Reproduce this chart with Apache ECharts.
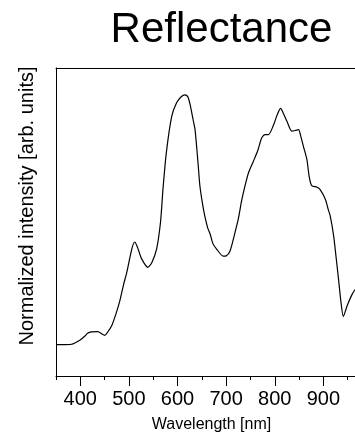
<!DOCTYPE html>
<html>
<head>
<meta charset="utf-8">
<script src="https://cdn.jsdelivr.net/npm/echarts@6/dist/echarts.min.js"></script>
<style>
  html, body { margin: 0; padding: 0; background: #fff; }
  #chart { width: 355px; height: 438px; }
</style>
</head>
<body>
<div id="chart"></div>
<script>
// Reflectance spectrum: wavelength (nm) and normalized intensity (arb. units)
const wavelength = [350, 368, 382, 399, 409, 415, 423, 436, 444, 450, 456, 465, 473, 481, 489, 496,
  506, 512, 518, 526, 539, 547, 557, 565, 570, 577, 588, 598, 607, 615, 621, 626, 632, 636,
  642, 646, 652, 656, 662, 667, 673, 680, 694, 700, 708, 718, 725, 732, 739, 746, 756, 765,
  773, 780, 787, 797, 805, 812, 817, 825, 835, 842, 849, 853, 859, 866, 871, 876, 887, 893,
  904, 910, 914, 921, 926, 931, 936, 941, 949, 959, 965];
const intensity = [0.102, 0.102, 0.103, 0.116, 0.129, 0.139, 0.143, 0.144, 0.137, 0.132, 0.142, 0.165, 0.200, 0.242, 0.297, 0.339,
  0.413, 0.435, 0.416, 0.381, 0.353, 0.368, 0.413, 0.500, 0.606, 0.726, 0.843, 0.887, 0.906, 0.913, 0.907, 0.880, 0.832, 0.800,
  0.694, 0.617, 0.553, 0.520, 0.481, 0.461, 0.429, 0.413, 0.389, 0.390, 0.406, 0.465, 0.510, 0.571, 0.619, 0.660, 0.697, 0.732,
  0.773, 0.784, 0.784, 0.813, 0.848, 0.869, 0.855, 0.827, 0.795, 0.797, 0.800, 0.781, 0.745, 0.703, 0.645, 0.618, 0.613, 0.606,
  0.574, 0.540, 0.520, 0.456, 0.387, 0.316, 0.242, 0.193, 0.229, 0.265, 0.281];
const majorTicks = [400, 900];   // first and last labelled wavelength
const majorStep = 100;
const minorStep = 50;

const xMin = 350, xMax = 965;
const W = 355;
const gridLeft = 56, gridRight = 0, gridTop = 68, gridBottom = 59;
const plotW = W - gridLeft - gridRight;
const toPx = v => gridLeft + (v - xMin) / (xMax - xMin) * plotW;

const font = '"Liberation Sans", Arial, sans-serif';

const chart = echarts.init(document.getElementById('chart'), null, { renderer: 'canvas' });
chart.setOption({
  backgroundColor: '#fff',
  animation: false,
  graphic: [{
    type: 'text',
    x: 221.5,
    y: 9.5,
    style: {
      text: 'Reflectance',
      font: '42px ' + font,
      fill: '#000',
      textAlign: 'center',
      textVerticalAlign: 'top'
    }
  }],
  grid: [
    { left: gridLeft, right: gridRight, top: gridTop, bottom: gridBottom, containLabel: false },
    { left: toPx(majorTicks[0]), right: W - toPx(majorTicks[1]), top: gridTop, bottom: gridBottom, containLabel: false }
  ],
  xAxis: [
    {
      // bottom axis with the short ticks every 50 nm
      type: 'value', gridIndex: 0, position: 'bottom',
      min: xMin, max: xMax, interval: minorStep,
      axisLine: { show: true, lineStyle: { color: '#000', width: 1 } },
      axisTick: { show: true, inside: false, length: 4, lineStyle: { color: '#000', width: 1 } },
      axisLabel: { show: false },
      splitLine: { show: false },
      name: 'Wavelength [nm]',
      nameLocation: 'middle',
      nameGap: 41,
      nameTextStyle: { fontFamily: font, fontSize: 16, color: '#000', padding: [0, 0, 0, 12] }
    },
    {
      // top frame line
      type: 'value', gridIndex: 0, position: 'top',
      min: xMin, max: xMax,
      axisLine: { show: true, lineStyle: { color: '#000', width: 1 } },
      axisTick: { show: false }, axisLabel: { show: false }, splitLine: { show: false }
    },
    {
      // labelled ticks every 100 nm
      type: 'value', gridIndex: 1, position: 'bottom',
      min: majorTicks[0], max: majorTicks[1], interval: majorStep,
      axisLine: { show: false },
      axisTick: { show: true, inside: false, length: 7, lineStyle: { color: '#000', width: 1 } },
      axisLabel: { show: true, margin: 10, fontFamily: font, fontSize: 20, color: '#000' },
      splitLine: { show: false }
    }
  ],
  yAxis: [
    {
      type: 'value', gridIndex: 0, min: 0, max: 1,
      axisLine: { show: true, lineStyle: { color: '#000', width: 1 } },
      axisTick: { show: false }, axisLabel: { show: false }, splitLine: { show: false },
      name: 'Normalized intensity [arb. units]',
      nameLocation: 'middle',
      nameRotate: 90,
      nameGap: 19,
      nameTextStyle: { fontFamily: font, fontSize: 20, color: '#000', padding: [0, 0, 0, 32] }
    },
    { type: 'value', gridIndex: 1, min: 0, max: 1, show: false }
  ],
  series: [{
    type: 'line',
    xAxisIndex: 0, yAxisIndex: 0,
    data: wavelength.map((w, i) => [w, intensity[i]]),
    showSymbol: false,
    smooth: 0.25,
    lineStyle: { color: '#000', width: 1.2 },
    clip: true
  }]
});
</script>
</body>
</html>
